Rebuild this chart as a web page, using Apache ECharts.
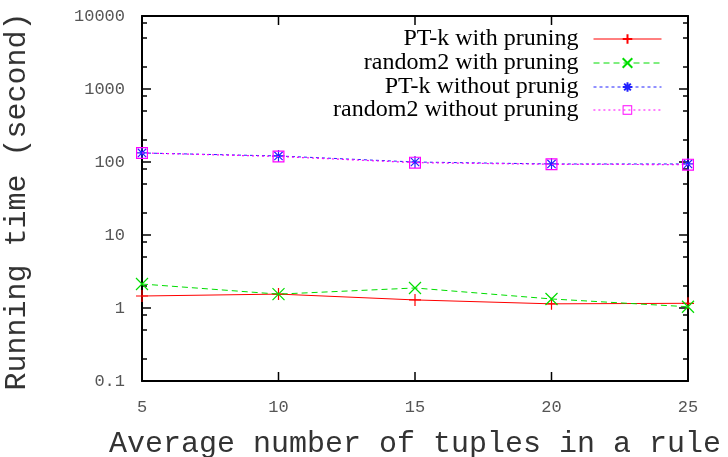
<!DOCTYPE html>
<html>
<head>
<meta charset="utf-8">
<script src="https://cdn.jsdelivr.net/npm/echarts@6/dist/echarts.min.js"></script>
<style>html,body{margin:0;padding:0;background:#fff}#c{width:728px;height:457px}</style>
</head>
<body>
<div id="c"></div>
<script>
const xValues = [5, 10, 15, 20, 25];
const seriesNames = ['PT-k with pruning', 'random2 with pruning', 'PT-k without prunig', 'random2 without pruning'];
const ptkWithPruning = [1.46, 1.55, 1.29, 1.14, 1.16];
const random2WithPruning = [2.13, 1.55, 1.88, 1.33, 1.04];
const ptkWithoutPruning = [133, 121, 100, 94, 94];
const random2WithoutPruning = [133, 119, 98, 93, 92];
const xTickValues = [10, 15, 20];
const yMajorTickValues = [0.1, 1, 10, 100, 1000, 10000];
const yMinorTickValues = [0.2, 0.5, 0.8, 2, 5, 8, 20, 50, 80, 200, 500, 800, 2000, 5000, 8000];
const xAxisTitle = 'Average number of tuples in a rule';
const yAxisTitle = 'Running time (second)';

const chart = echarts.init(document.getElementById('c'), null, {renderer: 'canvas'});
const pairs = arr => xValues.map((x, i) => [x, arr[i]]);
const mono = 'Liberation Mono';
const axisCol = '#000';
const X_MIN = 5, X_MAX = 25, Y_MIN = 0.1, Y_MAX = 10000;
const G = {left: 142, right: 40, top: 16, bottom: 76};
const GRID_W = 728 - G.left - G.right;
const GRID_H = 457 - G.top - G.bottom;
const MAJOR_LEN = 9, MINOR_LEN = 5;

const styles = [
  {color: '#ff0000', type: 'solid', width: 1, symbol: 'path://M5,0L5,10M0,5L10,5', size: 12, bw: 1.2},
  {color: '#00dd00', type: [6, 4], width: 1, symbol: 'path://M0,0L10,10M10,0L0,10', size: 12, bw: 1.2},
  {color: '#2222ff', type: [3, 3], width: 1, symbol: 'path://M5,0L5,10M0,5L10,5M1.5,1.5L8.5,8.5M8.5,1.5L1.5,8.5', size: 12, bw: 1.2},
  {color: '#ff00ff', type: [2, 3], width: 1.2, symbol: 'path://M0,0L10,0L10,10L0,10ZM1,1L1,9L9,9L9,1Z', size: 12, bw: 0}
];
const datasets = [ptkWithPruning, random2WithPruning, ptkWithoutPruning, random2WithoutPruning];
const rowCenters = [34, 58, 82, 105];
const fmtY = v => String(v);

const dataSeries = seriesNames.map((n, i) => ({
  id: 's' + i, name: n, type: 'line', xAxisIndex: 0, yAxisIndex: 0,
  data: pairs(datasets[i]),
  symbol: styles[i].symbol, symbolSize: styles[i].size, showSymbol: true,
  lineStyle: {color: styles[i].color, width: styles[i].width, type: styles[i].type},
  itemStyle: {color: styles[i].color, borderColor: styles[i].color, borderWidth: styles[i].bw},
  emphasis: {disabled: true},
  z: 2 + i
}));

// Tick marks: short segments in data space (pixel length -> axis units of the grid).
const xPerPx = (X_MAX - X_MIN) / GRID_W;
const decadesPerPx = (Math.log10(Y_MAX) - Math.log10(Y_MIN)) / GRID_H;
const tickSeries = [];
const addSeg = (a, b) => tickSeries.push({
  id: 't' + tickSeries.length, type: 'line', xAxisIndex: 0, yAxisIndex: 0,
  data: [a, b], symbol: 'none', showSymbol: false,
  lineStyle: {color: axisCol, width: 1.5, type: 'solid'},
  emphasis: {disabled: true}, z: 1
});
yMajorTickValues.map(v => [v, MAJOR_LEN]).concat(yMinorTickValues.map(v => [v, MINOR_LEN])).forEach(([v, len]) => {
  addSeg([X_MIN, v], [X_MIN + len * xPerPx, v]);
  addSeg([X_MAX, v], [X_MAX - len * xPerPx, v]);
});
xTickValues.forEach(v => {
  const f = Math.pow(10, MAJOR_LEN * decadesPerPx);
  addSeg([v, Y_MIN], [v, Y_MIN * f]);
  addSeg([v, Y_MAX], [v, Y_MAX / f]);
});

const option = {
  animation: false,
  backgroundColor: '#fff',
  grid: {left: G.left, right: G.right, top: G.top, bottom: G.bottom, containLabel: false, outerBoundsMode: 'none'},
  legend: seriesNames.map((n, i) => ({
    data: [n], right: 61, top: rowCenters[i] - 13, orient: 'horizontal', align: 'right',
    itemWidth: 68, itemHeight: 12, selectedMode: false,
    lineStyle: {color: styles[i].color, width: styles[i].width},
    textStyle: {fontFamily: 'Liberation Serif', fontSize: 24, color: '#000', lineHeight: 26, padding: [0, 10, 0, 0]}
  })),
  xAxis: [
    {
      type: 'value', min: X_MIN, max: X_MAX, interval: 5, position: 'bottom',
      name: xAxisTitle, nameLocation: 'middle', nameGap: 48,
      nameTextStyle: {fontFamily: mono, fontSize: 30, color: '#333'},
      axisLine: {show: true, lineStyle: {color: axisCol, width: 2}},
      axisTick: {show: false},
      axisLabel: {fontFamily: mono, fontSize: 17, color: '#555', margin: 18},
      splitLine: {show: false}
    },
    {
      type: 'value', min: X_MIN, max: X_MAX, interval: 5, position: 'top',
      axisLine: {show: true, lineStyle: {color: axisCol, width: 2}},
      axisTick: {show: false}, axisLabel: {show: false}, splitLine: {show: false}
    }
  ],
  yAxis: [
    {
      type: 'log', logBase: 10, min: Y_MIN, max: Y_MAX, position: 'left',
      name: yAxisTitle, nameLocation: 'middle', nameGap: 110, nameRotate: 90,
      nameTextStyle: {fontFamily: mono, fontSize: 30, color: '#333', padding: [0, 6, 0, 0]},
      axisLine: {show: true, lineStyle: {color: axisCol, width: 2}},
      axisTick: {show: false},
      axisLabel: {fontFamily: mono, fontSize: 17, color: '#555', margin: 17, formatter: fmtY},
      splitLine: {show: false}
    },
    {
      type: 'log', logBase: 10, min: Y_MIN, max: Y_MAX, position: 'right',
      axisLine: {show: true, lineStyle: {color: axisCol, width: 2}},
      axisTick: {show: false}, axisLabel: {show: false}, splitLine: {show: false}
    }
  ],
  series: dataSeries.concat(tickSeries)
};
chart.setOption(option);
</script>
</body>
</html>
